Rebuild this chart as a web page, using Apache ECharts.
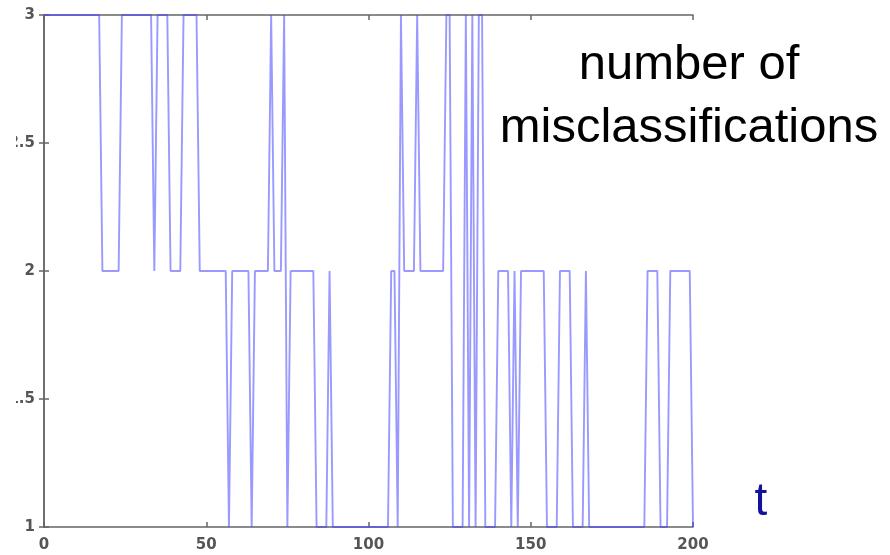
<!DOCTYPE html>
<html>
<head>
<meta charset="utf-8">
<script src="https://cdn.jsdelivr.net/npm/echarts@6/dist/echarts.min.js"></script>
<style>
  html, body { margin: 0; padding: 0; background: #fff; overflow: hidden; width: 890px; height: 555px; }
  #chart { position: absolute; left: 0; top: 0; width: 890px; height: 555px; }
</style>
</head>
<body>
<div id="chart"></div>
<script>
// Time steps t = 0..200
const tValues = [];
for (let i = 0; i <= 200; i++) tValues.push(i);

// Number of misclassifications at each time step
const misclassifications = [
  3,3,3,3,3,3,3,3,3,3,3,3,3,3,3,3,3,3,2,2,
  2,2,2,2,3,3,3,3,3,3,3,3,3,3,2,3,3,3,3,2,
  2,2,2,3,3,3,3,3,2,2,2,2,2,2,2,2,2,1,2,2,
  2,2,2,2,1,2,2,2,2,2,3,2,2,2,3,1,2,2,2,2,
  2,2,2,2,1,1,1,1,2,1,1,1,1,1,1,1,1,1,1,1,
  1,1,1,1,1,1,1,2,2,1,3,2,2,2,2,3,2,2,2,2,
  2,2,2,2,3,3,1,1,1,1,3,1,3,1,3,3,1,1,1,1,
  2,2,2,2,1,2,1,2,2,2,2,2,2,2,2,1,1,1,1,2,
  2,2,2,1,1,1,1,2,1,1,1,1,1,1,1,1,1,1,1,1,
  1,1,1,1,1,1,2,2,2,2,1,1,1,2,2,2,2,2,2,2,1
];

const xTicks = [0, 50, 100, 150, 200];
const yTicks = [1, 1.5, 2, 2.5, 3];
const titleLines = ['number of', 'misclassifications'];
const axisName = 't';

const seriesData = tValues.map((t, i) => [t, misclassifications[i]]);

const axisColor = '#666';
const labelStyle = { color: '#555', fontFamily: 'DejaVu Sans', fontWeight: 'bold', fontSize: 15 };
const tickStyle = { show: true, inside: true, length: 5, lineStyle: { color: axisColor, width: 1.5 } };
const lineAxis = { show: true, lineStyle: { color: axisColor, width: 1.5 } };

const chart = echarts.init(document.getElementById('chart'), null, { renderer: 'canvas' });
chart.setOption({
  animation: false,
  backgroundColor: '#fff',
  grid: { left: 44, right: 890 - 693, top: 15, bottom: 28, containLabel: false },
  xAxis: [
    {
      type: 'value', min: xTicks[0], max: xTicks[xTicks.length - 1], interval: 50,
      axisLine: lineAxis, axisTick: tickStyle,
      axisLabel: Object.assign({ margin: 11 }, labelStyle),
      splitLine: { show: false }
    },
    {
      type: 'value', position: 'top', min: xTicks[0], max: xTicks[xTicks.length - 1], interval: 50,
      axisLine: lineAxis, axisTick: tickStyle,
      axisLabel: { show: false }, splitLine: { show: false }
    }
  ],
  yAxis: [
    {
      type: 'value', min: yTicks[0], max: yTicks[yTicks.length - 1], interval: 0.5,
      axisLine: lineAxis, axisTick: tickStyle,
      axisLabel: Object.assign({ margin: 9 }, labelStyle),
      splitLine: { show: false }
    },
    {
      type: 'value', position: 'right', min: yTicks[0], max: yTicks[yTicks.length - 1], interval: 0.5,
      axisLine: lineAxis, axisTick: tickStyle,
      axisLabel: { show: false }, splitLine: { show: false }
    }
  ],
  series: [
    {
      type: 'line',
      data: seriesData,
      xAxisIndex: 0,
      yAxisIndex: 0,
      showSymbol: false,
      symbol: 'none',
      lineStyle: { color: 'rgba(70,70,255,0.55)', width: 1.9 },
      z: 1
    }
  ],
  graphic: [
    {
      // white strip at the left edge that hides part of the y labels, as in the reference
      type: 'rect', x: 0, y: 0, shape: { x: 0, y: 0, width: 16, height: 555 },
      style: { fill: '#fff' }, z: 20, silent: true
    },
    {
      type: 'text', x: 689, y: 65,
      style: {
        text: titleLines[0], fill: '#000', font: '49px "Liberation Sans", Arial, sans-serif',
        align: 'center', verticalAlign: 'middle'
      },
      z: 10
    },
    {
      type: 'text', x: 689, y: 128,
      style: {
        text: titleLines[1], fill: '#000', font: '49px "Liberation Sans", Arial, sans-serif',
        align: 'center', verticalAlign: 'middle'
      },
      z: 10
    },
    {
      type: 'text', x: 761, y: 502,
      style: {
        text: axisName, fill: '#12129a', font: '46px "Liberation Sans", Arial, sans-serif',
        align: 'center', verticalAlign: 'middle'
      },
      z: 10
    }
  ]
});
</script>
</body>
</html>
